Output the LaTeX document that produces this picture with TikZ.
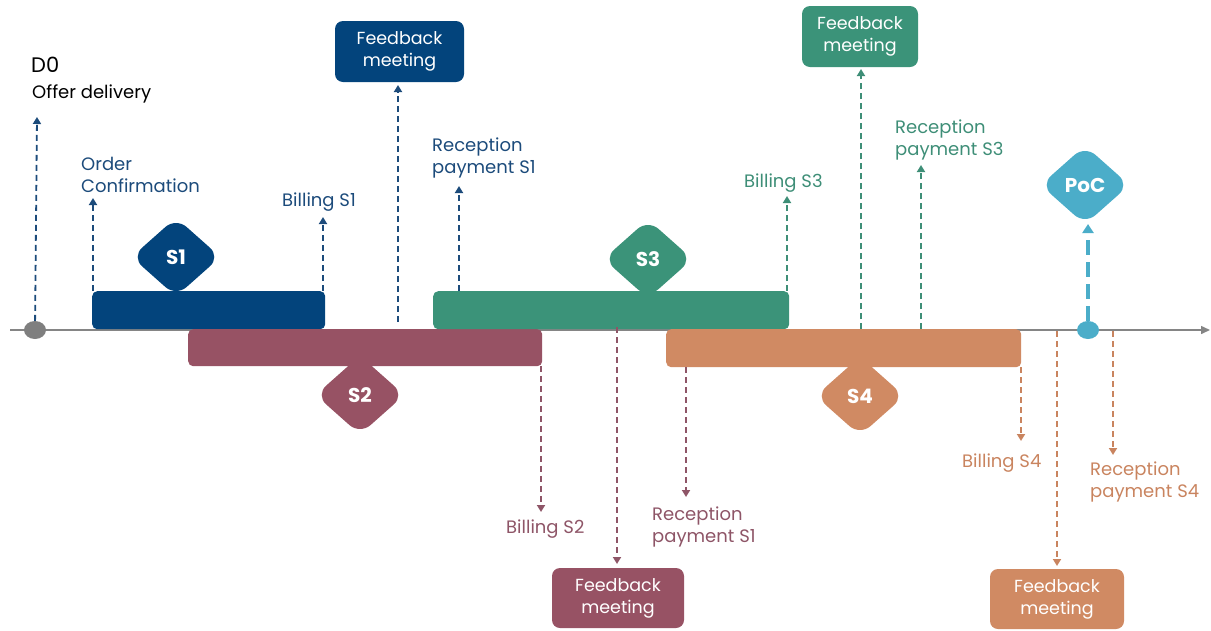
\documentclass[tikz,border=0pt]{standalone}
\usepackage{fontspec}
\setmainfont{Poppins}
\usetikzlibrary{shapes.geometric,arrows.meta,calc}
\definecolor{cblue}{HTML}{03447C}
\definecolor{tblue}{HTML}{1C4B7B}
\definecolor{cmauve}{HTML}{975264}
\definecolor{tmauve}{HTML}{8E5567}
\definecolor{cgreen}{HTML}{3B9379}
\definecolor{tgreen}{HTML}{3E8E77}
\definecolor{corange}{HTML}{D08A63}
\definecolor{torange}{HTML}{C9845F}
\definecolor{cpoc}{HTML}{4BADC9}
\definecolor{caxis}{HTML}{858585}
\definecolor{cdot}{HTML}{7F7F7F}
\begin{document}
\begin{tikzpicture}[x=1pt,y=-1pt,
  bar/.style={rounded corners=5pt, minimum height=38pt, inner sep=0pt, anchor=north west},
  dia/.style={diamond, aspect=1.12, rounded corners=14pt, minimum width=89pt, minimum height=79pt, inner sep=0pt, text=white, font=\fontsize{20}{22}\selectfont\bfseries},
  fbbox/.style={rounded corners=8pt, inner sep=0pt, text=white, align=center, font=\fontsize{17.5}{22}\selectfont},
  lbl/.style={inner sep=0pt, anchor=base west, align=left, font=\fontsize{18}{22}\selectfont},
  arr/.style={dash pattern=on 6pt off 4pt, line width=1.8pt, -{Triangle[width=8pt,length=7pt]}},
]
\useasboundingbox (0,0) rectangle (1211,630);
% axis
\coordinate (axL) at (10,330);
\coordinate (axR) at (1210,330);
\draw[caxis, line width=1.5pt, -{Triangle[width=8pt,length=9pt]}] (axL) -- (axR);

% bars
\node[bar, fill=cblue, minimum width=233pt] (s1bar) at (92,291) {};
\node[bar, fill=cmauve, minimum width=354pt, minimum height=37pt] (s2bar) at (188,329) {};
\node[bar, fill=cgreen, minimum width=356pt] (s3bar) at (433,291) {};
\node[bar, fill=corange, minimum width=355pt] (s4bar) at (666,329) {};

% diamonds
\node[dia, fill=cblue] (s1d) at (176,257) {S1};
\node[dia, fill=cmauve] (s2d) at (360,395) {S2};
\node[dia, fill=cgreen] (s3d) at (648,259) {S3};
\node[dia, fill=corange] (s4d) at (860,396) {S4};
\node[dia, fill=cpoc] (pocd) at (1085,185) {PoC};

% dots
\node[ellipse, fill=cdot, minimum width=22pt, minimum height=18pt, inner sep=0pt] (d0dot) at (35,330) {};
\node[ellipse, fill=cpoc, minimum width=22pt, minimum height=18pt, inner sep=0pt] (pocdot) at (1088,330) {};

% feedback boxes
\node[fbbox, fill=cblue, minimum width=129pt, minimum height=61pt] (fb1) at (399.5,51.5) {Feedback\\meeting};
\node[fbbox, fill=cmauve, minimum width=132pt, minimum height=60pt] (fb2) at (618,598) {Feedback\\meeting};
\node[fbbox, fill=cgreen, minimum width=116pt, minimum height=61pt] (fb3) at (860,36.5) {Feedback\\meeting};
\node[fbbox, fill=corange, minimum width=134pt, minimum height=60pt] (fb4) at (1057,599) {Feedback\\meeting};

% labels (base = baseline of last line)
\node[lbl, font=\fontsize{21}{22}\selectfont] (d0) at (31,72) {D0};
\node[lbl] (offer) at (32,98) {Offer delivery};
\node[lbl, text=tblue] (oc) at (81,192) {Order\\Confirmation};
\node[lbl, text=tblue] (b1) at (282,206) {Billing S1};
\node[lbl, text=tblue] (r1) at (432,173) {Reception\\payment S1};
\node[lbl, text=tgreen] (b3) at (744,187) {Billing S3};
\node[lbl, text=tgreen] (r3) at (895,155) {Reception\\payment S3};
\node[lbl, text=tmauve] (b2) at (506,533) {Billing S2};
\node[lbl, text=tmauve] (r1b) at (652,542) {Reception\\payment S1};
\node[lbl, text=torange] (b4) at (962,467) {Billing S4};
\node[lbl, text=torange] (r4) at (1090,497) {Reception\\payment S4};

% arrow coordinates
\coordinate (d0t) at (37,117);
\coordinate (ocS) at (93,291);   \coordinate (ocT) at (93,198);
\coordinate (b1S) at (323,291);  \coordinate (b1T) at (323,217);
\coordinate (f1S) at (398,322);  \coordinate (f1T) at (398,85);
\coordinate (r1S) at (459,291);  \coordinate (r1T) at (459,186);
\coordinate (b3S) at (787,291);  \coordinate (b3T) at (787,196);
\coordinate (f3S) at (861,329);  \coordinate (f3T) at (861,69);
\coordinate (r3S) at (921,329);  \coordinate (r3T) at (921,165);
\coordinate (b2S) at (541,366);  \coordinate (b2T) at (541,512);
\coordinate (f2S) at (617,327);  \coordinate (f2T) at (617,564);
\coordinate (rbS) at (686,367);  \coordinate (rbT) at (686,497);
\coordinate (b4S) at (1021,367); \coordinate (b4T) at (1021,441);
\coordinate (f4S) at (1057,331); \coordinate (f4T) at (1057,566);
\coordinate (r4S) at (1113,331); \coordinate (r4T) at (1113,455);
\coordinate (pocT) at (1088,224);

\draw[arr, tblue] (d0dot) -- (d0t);
\draw[arr, tblue] (ocS) -- (ocT);
\draw[arr, tblue] (b1S) -- (b1T);
\draw[arr, tblue] (f1S) -- (f1T);
\draw[arr, tblue] (r1S) -- (r1T);
\draw[arr, tgreen] (b3S) -- (b3T);
\draw[arr, tgreen] (f3S) -- (f3T);
\draw[arr, tgreen] (r3S) -- (r3T);
\draw[arr, tmauve] (b2S) -- (b2T);
\draw[arr, tmauve] (f2S) -- (f2T);
\draw[arr, tmauve] (rbS) -- (rbT);
\draw[arr, torange] (b4S) -- (b4T);
\draw[arr, torange] (f4S) -- (f4T);
\draw[arr, torange] (r4S) -- (r4T);
\draw[cpoc, line width=4pt, dash pattern=on 15pt off 7pt, -{Triangle[width=11pt,length=9pt]}] (pocdot) -- (pocT);
\end{tikzpicture}
\end{document}
